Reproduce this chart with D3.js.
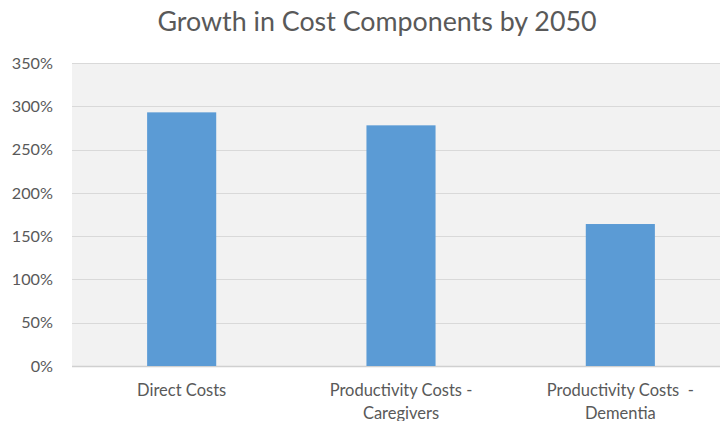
<!DOCTYPE html>
<html>
<head>
<meta charset="utf-8">
<script src="https://cdn.jsdelivr.net/npm/d3@7"></script>
<style>
  body { margin: 0; background: #fff; }
  text { font-family: Lato, "Open Sans", sans-serif; fill: #595959; }
</style>
</head>
<body>
<div id="chart"></div>
<script>
// DATA
var categories = [["Direct Costs"], ["Productivity Costs -", "Caregivers"], ["Productivity Costs  -", "Dementia"]];
var values = [2.93, 2.78, 1.64];
var yTicks = [0, 0.5, 1, 1.5, 2, 2.5, 3, 3.5];
var title = "Growth in Cost Components by 2050";

var W = 720, H = 421;
var margin = {top: 63, right: -10, bottom: 55, left: 72};
var width = W - margin.left - margin.right,
    height = H - margin.top - margin.bottom;

var svg = d3.select("#chart").append("svg")
    .attr("width", W)
    .attr("height", H);

svg.append("text")
    .attr("x", 377)
    .attr("y", 31)
    .attr("text-anchor", "middle")
    .style("font-size", "26.8px")
    .text(title);

var g = svg.append("g")
    .attr("transform", "translate(" + margin.left + "," + margin.top + ")");

var xScale = d3.scaleBand()
    .domain(d3.range(categories.length))
    .range([0, width]);

var yScale = d3.scaleLinear()
    .domain([0, 3.5])
    .range([height, 0]);

// plot background
g.append("rect")
    .attr("width", width)
    .attr("height", height)
    .attr("fill", "#f2f2f2");

// gridlines
g.selectAll(".grid")
    .data(yTicks)
    .enter()
    .append("line")
    .attr("x1", 0)
    .attr("x2", width)
    .attr("y1", d => Math.round(yScale(d)) + 0.5)
    .attr("y2", d => Math.round(yScale(d)) + 0.5)
    .attr("stroke", d => d === 0 ? "#d0d0d0" : "#d9d9d9")
    .attr("stroke-width", d => d === 0 ? 1.5 : 1);

// y labels
g.selectAll(".ylab")
    .data(yTicks)
    .enter()
    .append("text")
    .attr("x", -19)
    .attr("y", d => yScale(d))
    .attr("dy", "0.35em")
    .attr("text-anchor", "end")
    .style("font-size", "16.2px")
    .text(d3.format(".0%"));

// bars
var barW = xScale.bandwidth() * 0.315;
g.selectAll(".bar")
    .data(values)
    .enter()
    .append("rect")
    .attr("class", "bar")
    .attr("x", (d, i) => xScale(i) + xScale.bandwidth() / 2 - barW / 2)
    .attr("y", d => yScale(d))
    .attr("width", barW)
    .attr("height", d => height - yScale(d))
    .attr("fill", "#5b9bd5");

// x labels
categories.forEach(function (lines, i) {
  var t = g.append("text")
      .attr("x", xScale(i) + xScale.bandwidth() / 2)
      .attr("y", height + 30)
      .attr("text-anchor", "middle")
      .style("font-size", "16.5px")
      .style("white-space", "pre");
  lines.forEach(function (l, j) {
    t.append("tspan")
      .attr("x", xScale(i) + xScale.bandwidth() / 2)
      .attr("dy", j === 0 ? 0 : 23)
      .text(l);
  });
});
</script>
</body>
</html>
